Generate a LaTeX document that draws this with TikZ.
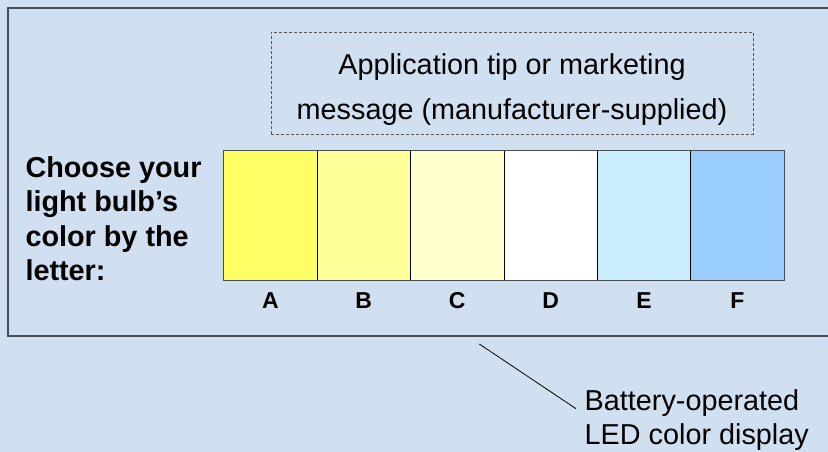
\documentclass[tikz,border=0pt]{standalone}
\usepackage{fontspec}
\setmainfont{Liberation Sans}
\definecolor{bgblue}{RGB}{208,224,240}
\definecolor{frameline}{RGB}{70,78,88}
\definecolor{dashline}{RGB}{85,85,85}
\definecolor{swA}{RGB}{255,255,102}
\definecolor{swB}{RGB}{255,255,153}
\definecolor{swC}{RGB}{255,255,204}
\definecolor{swD}{RGB}{255,255,255}
\definecolor{swE}{RGB}{204,236,255}
\definecolor{swF}{RGB}{153,204,255}
\tikzset{
  swatch/.style={draw=black, line width=0.8pt, minimum width=93.4pt, minimum height=130.3pt, inner sep=0pt, outer sep=0pt},
  letterlbl/.style={font=\bfseries\fontsize{23}{27}\selectfont, anchor=base, inner sep=0pt},
  bigtext/.style={font=\fontsize{28.8}{45}\selectfont, inner sep=0pt},
}
\begin{document}
\begin{tikzpicture}[x=1pt,y=-1pt]
\useasboundingbox (0,0) rectangle (828,452);
\clip (0,0) rectangle (828,452);
\fill[bgblue] (0,0) rectangle (828,452);
% outer frame
\draw[frameline, line width=1.6pt] (8,8) rectangle (850,336);
% dashed message box
\node[draw=dashline, line width=0.9pt, dash pattern=on 3pt off 2pt,
      minimum width=482pt, minimum height=102pt, inner sep=0pt] (msgbox) at (512,83.3) {};
\node[bigtext, align=center, anchor=base] (msg) at (512,119)
  {Application tip or marketing\\message (manufacturer-supplied)};
% swatches
\foreach \i/\c/\l in {0/swA/A,1/swB/B,2/swC/C,3/swD/D,4/swE/E,5/swF/F}{
  \node[swatch, fill=\c] (sw\l) at ({223.7+93.4*\i+46.7},215.15) {};
  \node[letterlbl] (lbl\l) at ({223.7+93.4*\i+46.7},308.3) {\l};
}
\draw[frameline, line width=1pt] (swA.north west) rectangle (swF.south east);
% left instruction text
\node[font=\bfseries\fontsize{28.8}{34.4}\selectfont, align=left, anchor=base west, inner sep=0pt] (choose) at (25.3,280.7)
  {Choose your\\light bulb’s\\color by the\\letter:};
% callout
\node[font=\fontsize{28.8}{33.3}\selectfont, align=left, anchor=base west, inner sep=0pt] (callout) at (584.5,444)
  {Battery-operated\\LED color display};
\coordinate (leadA) at (479.3,344);
\coordinate (leadB) at (576,408.7);
\draw[black, line width=0.8pt] (leadA) -- (leadB);
\end{tikzpicture}
\end{document}
